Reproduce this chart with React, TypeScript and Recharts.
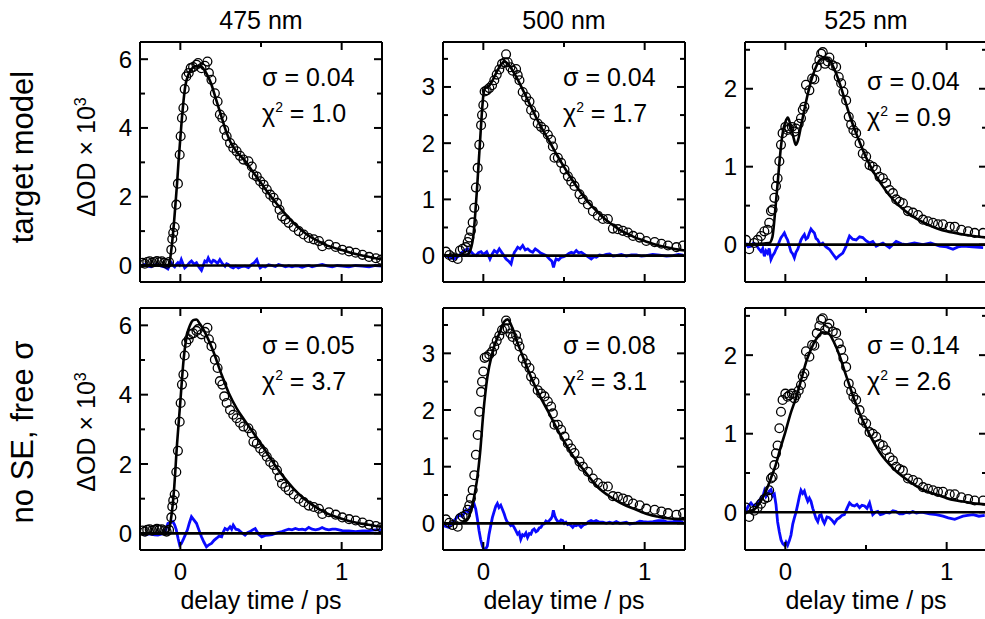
import React from 'react';
import { ComposedChart, Line, Scatter, XAxis, YAxis, ReferenceLine } from 'recharts';

const FONT = '"Liberation Sans", Arial, Helvetica, sans-serif';

const WAVELENGTHS = ['475 nm', '500 nm', '525 nm'];
const ROW_LABELS = ['target model', 'no SE, free σ'];
const SIGMAS = [['0.04', '0.04', '0.04'], ['0.05', '0.08', '0.14']];
const CHI2 = [['1.0', '1.7', '0.9'], ['3.7', '3.1', '2.6']];
const X_LABEL = 'delay time / ps';
const X_DOMAIN = [-0.25, 1.25];
const X_TICKS = [0, 0.5, 1];
const X_LABELED = [0, 1];
const Y_DOMAINS = [[-0.48, 6.5], [-0.47, 3.8], [-0.48, 2.6]];
const Y_TICKS = [[0, 1, 2, 3, 4, 5, 6], [0, 0.5, 1, 1.5, 2, 2.5, 3, 3.5], [0, 0.5, 1, 1.5, 2, 2.5]];
const Y_LABELED = [[0, 2, 4, 6], [0, 1, 2, 3], [0, 1, 2]];

// measured data (same for both rows of a column)
const DATA_475 = [
  [-0.235, 0.08], [-0.22, 0.05], [-0.205, 0.1], [-0.19, 0.12], [-0.175, 0.08], [-0.16, 0.1], [-0.145, 0.13], [-0.13, 0.1],
  [-0.115, 0.12], [-0.1, 0.08], [-0.085, 0.05], [-0.07, 0.1], [-0.056, 0.46], [-0.05, 0.77], [-0.044, 0.95], [-0.035, 1.12],
  [-0.025, 1.77], [-0.015, 2.38], [-0.004, 3.22], [0.002, 3.76], [0.01, 4.29], [0.019, 4.58], [0.027, 5.13], [0.037, 5.5],
  [0.052, 5.6], [0.064, 5.74], [0.079, 5.77], [0.1, 5.84], [0.11, 5.89], [0.131, 5.74], [0.152, 5.81], [0.168, 5.93],
  [0.177, 5.6], [0.193, 5.4], [0.214, 5.01], [0.231, 4.77], [0.245, 4.39], [0.26, 4.29], [0.272, 3.95], [0.287, 3.76],
  [0.308, 3.56], [0.328, 3.42], [0.349, 3.32], [0.37, 3.19], [0.391, 3.08], [0.422, 3.03], [0.443, 2.88], [0.453, 2.64],
  [0.474, 2.59], [0.495, 2.45], [0.516, 2.35], [0.536, 2.21], [0.557, 2.06], [0.578, 1.97], [0.599, 1.82], [0.615, 1.62],
  [0.63, 1.43], [0.651, 1.34], [0.672, 1.24], [0.703, 1.12], [0.734, 1.0], [0.765, 0.9], [0.796, 0.8], [0.827, 0.76],
  [0.859, 0.71], [0.88, 0.56], [0.921, 0.61], [0.963, 0.54], [1.004, 0.46], [1.046, 0.41], [1.087, 0.37], [1.129, 0.31],
  [1.17, 0.25], [1.212, 0.21], [1.245, 0.17],
];
const DATA_500 = [
  [-0.232, 0.07], [-0.211, 0.01], [-0.19, -0.03], [-0.159, -0.06], [-0.145, 0.09], [-0.128, 0.12], [-0.108, 0.15], [-0.097, 0.24],
  [-0.087, 0.32], [-0.077, 0.44], [-0.066, 0.59], [-0.056, 0.85], [-0.046, 1.21], [-0.035, 1.56], [-0.025, 1.97], [-0.014, 2.32],
  [-0.008, 2.5], [0.0, 2.68], [0.008, 2.92], [0.021, 2.94], [0.037, 2.98], [0.054, 3.03], [0.068, 3.12], [0.083, 3.22],
  [0.099, 3.31], [0.116, 3.41], [0.133, 3.44], [0.141, 3.58], [0.151, 3.44], [0.168, 3.35], [0.182, 3.29], [0.203, 3.32],
  [0.213, 3.21], [0.224, 3.12], [0.244, 2.91], [0.265, 2.82], [0.286, 2.74], [0.296, 2.59], [0.317, 2.5], [0.337, 2.35],
  [0.358, 2.29], [0.379, 2.24], [0.4, 2.15], [0.42, 2.06], [0.431, 1.94], [0.441, 1.74], [0.462, 1.74], [0.482, 1.65],
  [0.503, 1.53], [0.524, 1.41], [0.545, 1.32], [0.565, 1.24], [0.596, 1.09], [0.617, 1.0], [0.648, 0.91], [0.679, 0.79],
  [0.71, 0.71], [0.741, 0.65], [0.772, 0.65], [0.803, 0.48], [0.834, 0.47], [0.865, 0.44], [0.896, 0.41], [0.928, 0.35],
  [0.969, 0.32], [1.01, 0.26], [1.062, 0.24], [1.104, 0.21], [1.145, 0.18], [1.197, 0.15], [1.238, 0.18],
];
const DATA_525 = [
  [-0.244, 0.06], [-0.224, -0.06], [-0.193, 0.02], [-0.172, 0.06], [-0.151, 0.11], [-0.13, 0.17], [-0.11, 0.19], [-0.1, 0.28],
  [-0.089, 0.43], [-0.079, 0.45], [-0.068, 0.6], [-0.058, 0.75], [-0.048, 0.85], [-0.037, 1.07], [-0.027, 1.28], [-0.017, 1.43],
  [0.0, 1.51], [0.014, 1.47], [0.025, 1.49], [0.041, 1.51], [0.056, 1.45], [0.066, 1.49], [0.083, 1.55], [0.097, 1.62],
  [0.108, 1.73], [0.118, 1.77], [0.128, 2.05], [0.149, 1.98], [0.166, 2.13], [0.18, 2.12], [0.195, 2.28], [0.211, 2.37],
  [0.222, 2.45], [0.232, 2.47], [0.246, 2.32], [0.263, 2.35], [0.273, 2.4], [0.294, 2.3], [0.315, 2.28], [0.331, 2.15],
  [0.346, 2.07], [0.36, 1.96], [0.377, 1.85], [0.393, 1.64], [0.408, 1.54], [0.422, 1.47], [0.439, 1.43], [0.46, 1.3],
  [0.48, 1.17], [0.501, 1.13], [0.522, 1.02], [0.542, 1.0], [0.563, 0.96], [0.584, 0.87], [0.605, 0.85], [0.625, 0.79],
  [0.646, 0.7], [0.667, 0.66], [0.687, 0.58], [0.708, 0.55], [0.729, 0.53], [0.76, 0.43], [0.791, 0.41], [0.822, 0.38],
  [0.853, 0.32], [0.884, 0.3], [0.915, 0.28], [0.946, 0.26], [0.977, 0.26], [1.019, 0.23], [1.05, 0.23], [1.091, 0.19],
  [1.133, 0.17], [1.174, 0.15], [1.226, 0.15],
];

// fits, row 1 (target model)
const FIT_475_TARGET = [
  [-0.25, 0.0], [-0.07, 0.02], [-0.06, 0.3], [-0.05, 0.7], [-0.04, 1.2], [-0.03, 1.8], [-0.02, 2.4], [-0.01, 3.1], [0.0, 3.7],
  [0.01, 4.3], [0.02, 4.8], [0.03, 5.2], [0.05, 5.55], [0.07, 5.72], [0.1, 5.8], [0.13, 5.78], [0.16, 5.6], [0.19, 5.3],
  [0.22, 4.85], [0.25, 4.4], [0.28, 3.95], [0.31, 3.6], [0.35, 3.3], [0.4, 3.05], [0.45, 2.72], [0.5, 2.4], [0.55, 2.08],
  [0.6, 1.78], [0.65, 1.5], [0.7, 1.25], [0.75, 1.03], [0.8, 0.85], [0.85, 0.72], [0.9, 0.6], [0.95, 0.52], [1.0, 0.45],
  [1.05, 0.38], [1.1, 0.32], [1.15, 0.27], [1.2, 0.22], [1.25, 0.18],
];
const FIT_500_TARGET = [
  [-0.25, 0.0], [-0.1, 0.02], [-0.08, 0.1], [-0.06, 0.4], [-0.05, 0.75], [-0.04, 1.15], [-0.03, 1.6], [-0.02, 2.05],
  [-0.01, 2.5], [0.0, 2.85], [0.01, 2.98], [0.03, 3.0], [0.05, 3.08], [0.08, 3.25], [0.11, 3.4], [0.13, 3.45], [0.15, 3.42],
  [0.18, 3.3], [0.21, 3.15], [0.25, 2.92], [0.3, 2.62], [0.35, 2.33], [0.4, 2.08], [0.45, 1.82], [0.5, 1.58], [0.55, 1.35],
  [0.6, 1.14], [0.65, 0.95], [0.7, 0.8], [0.75, 0.66], [0.8, 0.55], [0.85, 0.45], [0.9, 0.38], [0.95, 0.31], [1.0, 0.26],
  [1.05, 0.21], [1.1, 0.17], [1.15, 0.14], [1.2, 0.11], [1.25, 0.09],
];
const FIT_525_TARGET = [
  [-0.25, 0.0], [-0.1, 0.02], [-0.08, 0.1], [-0.06, 0.5], [-0.045, 0.85], [-0.03, 1.2], [-0.015, 1.45], [0.0, 1.57],
  [0.015, 1.63], [0.03, 1.55], [0.05, 1.38], [0.065, 1.28], [0.08, 1.35], [0.1, 1.55], [0.13, 1.85], [0.16, 2.1],
  [0.19, 2.28], [0.22, 2.38], [0.25, 2.4], [0.28, 2.35], [0.31, 2.22], [0.34, 2.05], [0.37, 1.85], [0.4, 1.65],
  [0.45, 1.37], [0.5, 1.12], [0.55, 0.92], [0.6, 0.76], [0.65, 0.62], [0.7, 0.51], [0.75, 0.42], [0.8, 0.35], [0.85, 0.29],
  [0.9, 0.24], [0.95, 0.2], [1.0, 0.17], [1.1, 0.13], [1.2, 0.1], [1.25, 0.09],
];
// fits, row 2 (no SE, free sigma)
const FIT_475_FREE = [
  [-0.25, 0.0], [-0.08, 0.02], [-0.06, 0.35], [-0.04, 1.2], [-0.02, 2.6], [0.0, 3.8], [0.02, 5.0], [0.04, 5.7], [0.06, 6.0],
  [0.08, 6.15], [0.1, 6.17], [0.12, 6.05], [0.15, 5.82], [0.2, 5.3], [0.25, 4.65], [0.3, 4.05], [0.35, 3.6], [0.4, 3.25],
  [0.45, 2.92], [0.5, 2.58], [0.55, 2.22], [0.6, 1.88], [0.65, 1.57], [0.7, 1.3], [0.75, 1.07], [0.8, 0.88], [0.85, 0.73],
  [0.9, 0.6], [0.95, 0.5], [1.0, 0.42], [1.05, 0.35], [1.1, 0.3], [1.15, 0.26], [1.2, 0.22], [1.25, 0.19],
];
const FIT_500_FREE = [
  [-0.25, 0.0], [-0.15, 0.0], [-0.1, 0.06], [-0.07, 0.3], [-0.04, 0.75], [-0.02, 1.25], [0.0, 1.95], [0.025, 2.58],
  [0.055, 3.0], [0.1, 3.36], [0.13, 3.56], [0.15, 3.6], [0.18, 3.45], [0.21, 3.2], [0.24, 2.98], [0.3, 2.55], [0.35, 2.25],
  [0.41, 1.93], [0.46, 1.65], [0.51, 1.4], [0.56, 1.17], [0.62, 0.95], [0.67, 0.77], [0.72, 0.61], [0.77, 0.5], [0.82, 0.41],
  [0.87, 0.33], [0.93, 0.26], [0.98, 0.2], [1.03, 0.15], [1.08, 0.12], [1.14, 0.09], [1.19, 0.08], [1.25, 0.07],
];
const FIT_525_FREE = [
  [-0.25, 0.0], [-0.2, 0.03], [-0.18, 0.06], [-0.15, 0.15], [-0.12, 0.27], [-0.09, 0.43], [-0.06, 0.6], [-0.03, 0.82],
  [0.0, 1.02], [0.03, 1.24], [0.07, 1.48], [0.1, 1.7], [0.13, 1.92], [0.16, 2.08], [0.19, 2.2], [0.23, 2.29], [0.27, 2.27],
  [0.3, 2.17], [0.34, 1.97], [0.37, 1.78], [0.4, 1.6], [0.43, 1.42], [0.46, 1.26], [0.5, 1.08], [0.54, 0.92], [0.6, 0.72],
  [0.65, 0.6], [0.7, 0.5], [0.75, 0.42], [0.8, 0.35], [0.85, 0.29], [0.9, 0.25], [0.96, 0.21], [1.0, 0.18], [1.06, 0.15],
  [1.12, 0.13], [1.18, 0.11], [1.25, 0.1],
];

// residuals
const RES_475_TARGET = [
  [-0.24, 0.0], [-0.222, 0.03], [-0.2, -0.02], [-0.181, -0.04], [-0.16, 0.02], [-0.139, 0.03], [-0.118, -0.02], [-0.098, -0.04],
  [-0.077, -0.1], [-0.066, 0.02], [-0.056, 0.08], [-0.045, 0.0], [-0.035, -0.04], [-0.025, 0.03], [-0.015, 0.08],
  [-0.005, 0.02], [0.006, 0.17], [0.016, 0.05], [0.027, -0.07], [0.038, -0.02], [0.048, 0.03], [0.058, 0.09], [0.069, 0.13],
  [0.085, 0.04], [0.1, 0.08], [0.115, -0.04], [0.131, -0.14], [0.142, 0.0], [0.152, 0.13], [0.163, 0.1], [0.173, 0.22],
  [0.183, 0.12], [0.193, 0.08], [0.204, 0.15], [0.214, 0.13], [0.23, 0.06], [0.245, 0.17], [0.26, 0.06], [0.277, -0.02],
  [0.287, 0.05], [0.297, 0.03], [0.312, -0.04], [0.328, -0.07], [0.344, -0.02], [0.36, -0.07], [0.38, -0.03], [0.401, -0.02],
  [0.422, -0.06], [0.443, 0.03], [0.458, 0.08], [0.474, 0.17], [0.485, 0.02], [0.495, -0.07], [0.51, -0.02], [0.526, -0.04],
  [0.547, 0.02], [0.568, 0.0], [0.589, -0.03], [0.609, 0.03], [0.63, 0.0], [0.651, -0.04], [0.672, -0.01], [0.692, -0.04],
  [0.713, -0.01], [0.734, -0.02], [0.755, -0.05], [0.775, -0.02], [0.796, 0.0], [0.817, -0.04], [0.848, 0.0], [0.879, 0.03],
  [0.91, -0.01], [0.942, -0.04], [0.973, 0.0], [1.004, -0.02], [1.045, -0.04], [1.087, 0.0], [1.128, -0.02], [1.17, -0.04],
  [1.21, 0.0], [1.25, -0.02],
];
const RES_500_TARGET = [
  [-0.25, 0.01], [-0.211, -0.03], [-0.18, -0.06], [-0.149, 0.0], [-0.135, 0.05], [-0.118, 0.09], [-0.097, 0.12], [-0.087, 0.05],
  [-0.077, 0.07], [-0.06, 0.02], [-0.046, 0.0], [-0.03, 0.05], [-0.014, 0.07], [0.0, 0.02], [0.021, 0.07], [0.041, -0.06],
  [0.055, 0.03], [0.068, 0.09], [0.085, 0.05], [0.099, 0.12], [0.12, 0.03], [0.141, -0.06], [0.157, -0.1], [0.172, -0.15],
  [0.183, -0.02], [0.193, 0.06], [0.203, 0.1], [0.213, 0.15], [0.228, 0.12], [0.244, 0.18], [0.26, 0.1], [0.275, 0.12],
  [0.29, 0.08], [0.306, 0.06], [0.322, 0.12], [0.337, 0.09], [0.353, 0.05], [0.369, 0.03], [0.39, 0.0], [0.41, -0.06],
  [0.425, -0.1], [0.435, -0.21], [0.443, -0.12], [0.451, -0.06], [0.466, -0.08], [0.482, -0.03], [0.498, -0.02], [0.513, 0.0],
  [0.53, 0.04], [0.545, 0.06], [0.56, 0.04], [0.576, 0.09], [0.59, 0.05], [0.607, 0.06], [0.622, 0.03], [0.638, 0.0],
  [0.654, -0.03], [0.669, -0.06], [0.685, -0.02], [0.7, -0.03], [0.72, 0.01], [0.741, 0.0], [0.762, 0.02], [0.783, 0.03],
  [0.804, -0.01], [0.824, 0.0], [0.855, 0.02], [0.886, -0.01], [0.917, 0.01], [0.948, 0.01], [0.98, -0.01], [1.01, 0.0],
  [1.05, 0.02], [1.093, 0.01], [1.135, -0.01], [1.176, 0.0], [1.21, 0.02], [1.238, 0.01],
];
const RES_525_TARGET = [
  [-0.244, 0.02], [-0.23, -0.03], [-0.213, -0.02], [-0.198, 0.02], [-0.182, 0.0], [-0.166, -0.05], [-0.151, -0.09],
  [-0.14, -0.05], [-0.13, -0.15], [-0.12, -0.08], [-0.11, -0.11], [-0.1, -0.05], [-0.089, -0.19], [-0.078, -0.14],
  [-0.068, -0.11], [-0.058, -0.06], [-0.048, -0.02], [-0.037, 0.04], [-0.027, 0.09], [-0.016, 0.12], [-0.006, 0.15],
  [0.004, 0.1], [0.014, 0.06], [0.025, -0.02], [0.035, -0.09], [0.046, -0.12], [0.056, -0.17], [0.066, -0.1], [0.077, -0.06],
  [0.087, 0.0], [0.097, 0.06], [0.108, 0.1], [0.118, 0.13], [0.128, 0.07], [0.139, 0.09], [0.149, 0.15], [0.159, 0.2],
  [0.17, 0.17], [0.18, 0.15], [0.19, 0.08], [0.201, 0.06], [0.216, 0.0], [0.232, 0.02], [0.252, -0.03], [0.273, -0.06],
  [0.294, -0.12], [0.315, -0.18], [0.335, -0.14], [0.356, -0.11], [0.377, -0.02], [0.387, 0.05], [0.398, 0.11], [0.418, 0.07],
  [0.439, 0.06], [0.46, 0.1], [0.48, 0.09], [0.5, 0.05], [0.522, 0.02], [0.542, 0.04], [0.563, -0.02], [0.584, 0.0],
  [0.605, 0.02], [0.625, -0.01], [0.646, -0.04], [0.667, 0.0], [0.687, 0.04], [0.72, 0.01], [0.75, 0.0], [0.8, 0.02],
  [0.853, 0.0], [0.9, 0.02], [0.957, -0.02], [1.0, -0.03], [1.039, -0.06], [1.07, -0.03], [1.101, -0.02], [1.16, -0.03],
  [1.226, -0.04],
];
const RES_475_FREE = [
  [-0.222, -0.05], [-0.2, -0.02], [-0.181, -0.02], [-0.16, -0.04], [-0.139, -0.05], [-0.118, -0.02], [-0.098, 0.0],
  [-0.087, 0.15], [-0.077, 0.29], [-0.06, 0.31], [-0.046, 0.34], [-0.035, 0.24], [-0.025, 0.1], [-0.014, -0.15],
  [-0.004, -0.34], [0.006, -0.3], [0.017, -0.19], [0.03, -0.05], [0.044, 0.1], [0.056, 0.3], [0.069, 0.48], [0.085, 0.38],
  [0.1, 0.29], [0.115, 0.1], [0.131, -0.1], [0.146, -0.25], [0.162, -0.39], [0.177, -0.33], [0.193, -0.29], [0.209, -0.2],
  [0.225, -0.14], [0.24, -0.08], [0.256, -0.1], [0.266, 0.04], [0.277, 0.14], [0.292, 0.1], [0.308, 0.19], [0.318, 0.12],
  [0.328, 0.24], [0.344, 0.12], [0.36, 0.1], [0.38, 0.02], [0.401, -0.05], [0.416, 0.02], [0.432, 0.05], [0.448, 0.1],
  [0.464, 0.14], [0.484, -0.02], [0.505, -0.1], [0.526, -0.06], [0.547, -0.05], [0.568, -0.04], [0.588, 0.0], [0.609, 0.03],
  [0.63, 0.05], [0.651, 0.09], [0.672, 0.12], [0.692, 0.1], [0.713, 0.14], [0.734, 0.11], [0.755, 0.12], [0.775, 0.1],
  [0.796, 0.17], [0.817, 0.12], [0.838, 0.1], [0.858, 0.12], [0.879, 0.17], [0.9, 0.12], [0.921, 0.1], [0.942, 0.12],
  [0.963, 0.12], [0.983, 0.1], [1.004, 0.08], [1.045, 0.07], [1.087, 0.05], [1.128, 0.07], [1.17, 0.08], [1.21, 0.1],
  [1.25, 0.1],
];
const RES_500_FREE = [
  [-0.25, -0.04], [-0.214, -0.07], [-0.19, 0.02], [-0.172, 0.08], [-0.151, 0.15], [-0.13, 0.12], [-0.11, 0.23],
  [-0.095, 0.2], [-0.079, 0.29], [-0.068, 0.3], [-0.058, 0.35], [-0.047, 0.25], [-0.037, 0.08], [-0.027, -0.12],
  [-0.017, -0.28], [-0.006, -0.4], [0.004, -0.46], [0.015, -0.45], [0.025, -0.4], [0.035, -0.2], [0.046, -0.04], [0.056, 0.1],
  [0.066, 0.2], [0.077, 0.3], [0.087, 0.35], [0.097, 0.28], [0.108, 0.32], [0.118, 0.25], [0.129, 0.17], [0.139, 0.08],
  [0.149, 0.02], [0.16, 0.0], [0.17, -0.04], [0.18, -0.02], [0.191, -0.07], [0.2, -0.12], [0.212, -0.19], [0.222, -0.16],
  [0.232, -0.28], [0.243, -0.2], [0.253, -0.22], [0.264, -0.17], [0.274, -0.25], [0.285, -0.18], [0.295, -0.19],
  [0.305, -0.12], [0.315, -0.1], [0.326, -0.15], [0.336, -0.13], [0.347, -0.08], [0.357, -0.07], [0.367, -0.02],
  [0.378, -0.01], [0.388, 0.04], [0.398, 0.02], [0.409, 0.05], [0.419, 0.08], [0.427, 0.12], [0.434, 0.23], [0.442, 0.14],
  [0.45, 0.08], [0.46, 0.04], [0.471, 0.02], [0.482, 0.06], [0.492, 0.05], [0.502, 0.0], [0.512, 0.02], [0.523, -0.02],
  [0.533, -0.01], [0.544, -0.04], [0.554, -0.07], [0.565, -0.03], [0.575, -0.04], [0.59, -0.02], [0.606, -0.07],
  [0.62, -0.03], [0.637, -0.01], [0.652, 0.03], [0.668, 0.05], [0.683, 0.03], [0.699, 0.05], [0.72, 0.02], [0.741, 0.02],
  [0.762, 0.0], [0.782, 0.02], [0.803, 0.0], [0.824, 0.03], [0.845, 0.0], [0.865, 0.01], [0.886, 0.02], [0.907, -0.01],
  [0.928, 0.0], [0.948, 0.01], [0.97, 0.04], [0.99, 0.03], [1.02, 0.02], [1.052, 0.03], [1.083, 0.05], [1.114, 0.05],
  [1.145, 0.02], [1.176, 0.03], [1.208, 0.05], [1.239, 0.02],
];
const RES_525_FREE = [
  [-0.244, 0.01], [-0.23, 0.08], [-0.213, 0.12], [-0.198, 0.08], [-0.182, 0.1], [-0.166, 0.14], [-0.151, 0.18],
  [-0.14, 0.2], [-0.13, 0.27], [-0.12, 0.2], [-0.11, 0.23], [-0.1, 0.27], [-0.089, 0.29], [-0.078, 0.21], [-0.068, 0.23],
  [-0.058, 0.1], [-0.048, -0.12], [-0.037, -0.25], [-0.027, -0.35], [-0.016, -0.4], [-0.006, -0.42], [0.004, -0.38],
  [0.014, -0.42], [0.025, -0.36], [0.035, -0.29], [0.046, -0.15], [0.056, -0.07], [0.066, 0.0], [0.077, 0.1], [0.087, 0.2],
  [0.097, 0.28], [0.108, 0.24], [0.118, 0.27], [0.128, 0.2], [0.139, 0.14], [0.149, 0.18], [0.159, 0.14], [0.17, 0.05],
  [0.18, -0.01], [0.19, -0.08], [0.201, -0.12], [0.212, -0.04], [0.222, -0.03], [0.232, -0.1], [0.242, -0.14],
  [0.258, -0.06], [0.273, -0.07], [0.289, -0.1], [0.304, -0.14], [0.32, -0.09], [0.335, -0.07], [0.35, -0.04],
  [0.366, -0.03], [0.382, 0.05], [0.398, 0.12], [0.413, 0.09], [0.429, 0.08], [0.444, 0.1], [0.46, 0.06], [0.475, 0.09],
  [0.491, 0.08], [0.506, 0.05], [0.522, 0.12], [0.532, 0.04], [0.542, -0.03], [0.558, 0.0], [0.573, 0.01], [0.589, -0.03],
  [0.605, -0.02], [0.625, 0.0], [0.646, -0.01], [0.667, 0.02], [0.687, 0.01], [0.708, -0.02], [0.729, -0.02], [0.75, 0.0],
  [0.77, -0.01], [0.79, 0.01], [0.812, -0.01], [0.833, 0.0], [0.853, 0.0], [0.874, -0.01], [0.894, -0.02], [0.935, -0.03],
  [0.977, -0.05], [1.01, -0.07], [1.05, -0.09], [1.075, -0.07], [1.101, -0.05], [1.13, -0.04], [1.164, -0.03], [1.2, -0.05],
  [1.236, -0.04],
];

const DATA = [DATA_475, DATA_500, DATA_525];
const FITS = [[FIT_475_TARGET, FIT_500_TARGET, FIT_525_TARGET], [FIT_475_FREE, FIT_500_FREE, FIT_525_FREE]];
const RESIDUALS = [[RES_475_TARGET, RES_500_TARGET, RES_525_TARGET], [RES_475_FREE, RES_500_FREE, RES_525_FREE]];

const toRows = (arr: number[][]) => arr.map(([x, y]) => ({ x, y }));

// layout
const COL_LEFT = [140, 443, 745];
const PLOT_W = 242;
const ROW_TOP = [42, 308];
const ROW_H = [240, 242];
const ML = 60;
const MR = 12;
const MT = 10;

const TICK_FS = 24;

function Circle(p: any) {
  if (p.cx == null || p.cy == null) return null;
  return <circle cx={p.cx} cy={p.cy} r={4.4} fill="none" stroke="#000" strokeWidth={1.3} />;
}

function Panel({ col, row }: { col: number; row: number }) {
  const ph = ROW_H[row];
  const bottomH = row === 1 ? 40 : 8;
  const w = ML + PLOT_W + MR + 1;
  const h = MT + 1 + ph + bottomH;
  const yLabeled = Y_LABELED[col];

  const xTickBottom = (p: any) => {
    const v = p.payload.value;
    const major = X_LABELED.includes(v);
    const len = major ? 8 : 5;
    return (
      <g>
        <line x1={p.x} x2={p.x} y1={p.y} y2={p.y - len} stroke="#000" strokeWidth={2} />
        {row === 1 && major ? (
          <text x={p.x} y={p.y + 30} textAnchor="middle" fontFamily={FONT} fontSize={TICK_FS} fill="#000">
            {String(v)}
          </text>
        ) : null}
      </g>
    );
  };
  const xTickTop = (p: any) => {
    const v = p.payload.value;
    const len = X_LABELED.includes(v) ? 8 : 5;
    return <line x1={p.x} x2={p.x} y1={p.y} y2={p.y + len} stroke="#000" strokeWidth={2} />;
  };
  const yTickLeft = (p: any) => {
    const v = p.payload.value;
    const major = yLabeled.includes(v);
    const len = major ? 8 : 5;
    return (
      <g>
        <line x1={p.x} x2={p.x + len} y1={p.y} y2={p.y} stroke="#000" strokeWidth={2} />
        {major ? (
          <text x={p.x - 8} y={p.y + 8.5} textAnchor="end" fontFamily={FONT} fontSize={TICK_FS} fill="#000">
            {String(v)}
          </text>
        ) : null}
      </g>
    );
  };
  const yTickRight = (p: any) => {
    const v = p.payload.value;
    const len = yLabeled.includes(v) ? 8 : 5;
    return <line x1={p.x} x2={p.x - len} y1={p.y} y2={p.y} stroke="#000" strokeWidth={2} />;
  };

  const axisLine = { stroke: '#000', strokeWidth: 2 };

  return (
    <div style={{ position: 'absolute', left: COL_LEFT[col] - ML, top: ROW_TOP[row] - MT - 1 }}>
      <ComposedChart width={w} height={h} margin={{ top: MT, right: MR, bottom: 0, left: 0 }}>
        <XAxis
          xAxisId="b"
          type="number"
          dataKey="x"
          domain={X_DOMAIN}
          ticks={X_TICKS}
          allowDataOverflow
          interval={0}
          tickLine={false}
          tickSize={0}
          tickMargin={0}
          axisLine={axisLine}
          height={bottomH}
          tick={xTickBottom}
        />
        <XAxis
          xAxisId="t"
          orientation="top"
          type="number"
          dataKey="x"
          domain={X_DOMAIN}
          ticks={X_TICKS}
          allowDataOverflow
          interval={0}
          tickLine={false}
          tickSize={0}
          tickMargin={0}
          axisLine={axisLine}
          height={1}
          tick={xTickTop}
        />
        <YAxis
          yAxisId="l"
          type="number"
          dataKey="y"
          domain={Y_DOMAINS[col]}
          ticks={Y_TICKS[col]}
          allowDataOverflow
          interval={0}
          tickLine={false}
          tickSize={0}
          tickMargin={0}
          axisLine={axisLine}
          width={ML}
          tick={yTickLeft}
        />
        <YAxis
          yAxisId="r"
          orientation="right"
          type="number"
          dataKey="y"
          domain={Y_DOMAINS[col]}
          ticks={Y_TICKS[col]}
          allowDataOverflow
          interval={0}
          tickLine={false}
          tickSize={0}
          tickMargin={0}
          axisLine={axisLine}
          width={1}
          tick={yTickRight}
        />
        <Line
          xAxisId="t"
          yAxisId="r"
          data={toRows(RESIDUALS[row][col])}
          dataKey="y"
          type="linear"
          stroke="#0a0aff"
          strokeWidth={2.8}
          dot={false}
          activeDot={false}
          isAnimationActive={false}
        />
        <Scatter
          xAxisId="b"
          yAxisId="l"
          data={toRows(DATA[col])}
          dataKey="y"
          shape={Circle}
          isAnimationActive={false}
        />
        <Line
          xAxisId="b"
          yAxisId="l"
          data={toRows(FITS[row][col])}
          dataKey="y"
          type="monotone"
          stroke="#000"
          strokeWidth={2.6}
          dot={false}
          activeDot={false}
          isAnimationActive={false}
        />
        <ReferenceLine xAxisId="b" yAxisId="l" y={0} stroke="#000" strokeWidth={2.6} />
      </ComposedChart>
    </div>
  );
}

const textBase: React.CSSProperties = {
  position: 'absolute',
  fontFamily: FONT,
  color: '#000',
  whiteSpace: 'nowrap',
  lineHeight: 1,
};

export default function App() {
  const cols = [0, 1, 2];
  const rows = [0, 1];
  const annoLeft = [262, 563, 867];
  const sigmaY = [77, 345];
  const chiY = [113, 381];
  const rowCenter = [157, 432];
  return (
    <div
      style={{
        position: 'fixed',
        left: 0,
        top: 0,
        width: 985,
        height: 619,
        overflow: 'hidden',
        background: '#fff',
      }}
    >
      {rows.map((r) => cols.map((c) => <Panel key={`${r}-${c}`} row={r} col={c} />))}
      {cols.map((c) => (
        <div
          key={`t${c}`}
          style={{ ...textBase, fontSize: 25, left: COL_LEFT[c] + PLOT_W / 2, top: 20, transform: 'translate(-50%, -50%)' }}
        >
          {WAVELENGTHS[c]}
        </div>
      ))}
      {cols.map((c) => (
        <div
          key={`xl${c}`}
          style={{ ...textBase, fontSize: 25, left: COL_LEFT[c] + PLOT_W / 2, top: 600, transform: 'translate(-50%, -50%)' }}
        >
          {X_LABEL}
        </div>
      ))}
      {rows.map((r) => (
        <div
          key={`rl${r}`}
          style={{ ...textBase, fontSize: 31, left: 22, top: rowCenter[r], transform: 'translate(-50%, -50%) rotate(-90deg)' }}
        >
          {ROW_LABELS[r]}
        </div>
      ))}
      {rows.map((r) => (
        <div
          key={`yl${r}`}
          style={{ ...textBase, fontSize: 25, left: 86, top: rowCenter[r], transform: 'translate(-50%, -50%) rotate(-90deg)' }}
        >
          ΔOD × 10<sup style={{ fontSize: 16, verticalAlign: 'super' }}>3</sup>
        </div>
      ))}
      {rows.map((r) =>
        cols.map((c) => (
          <React.Fragment key={`a${r}${c}`}>
            <div style={{ ...textBase, fontSize: 25, left: annoLeft[c], top: sigmaY[r] + (r === 0 && c === 2 ? 4 : 0), transform: 'translateY(-50%)' }}>
              σ = {SIGMAS[r][c]}
            </div>
            <div style={{ ...textBase, fontSize: 25, left: annoLeft[c], top: chiY[r] + (r === 0 && c === 2 ? 4 : 0), transform: 'translateY(-50%)' }}>
              χ<sup style={{ fontSize: 14, verticalAlign: 'super' }}>2</sup> = {CHI2[r][c]}
            </div>
          </React.Fragment>
        ))
      )}
    </div>
  );
}
